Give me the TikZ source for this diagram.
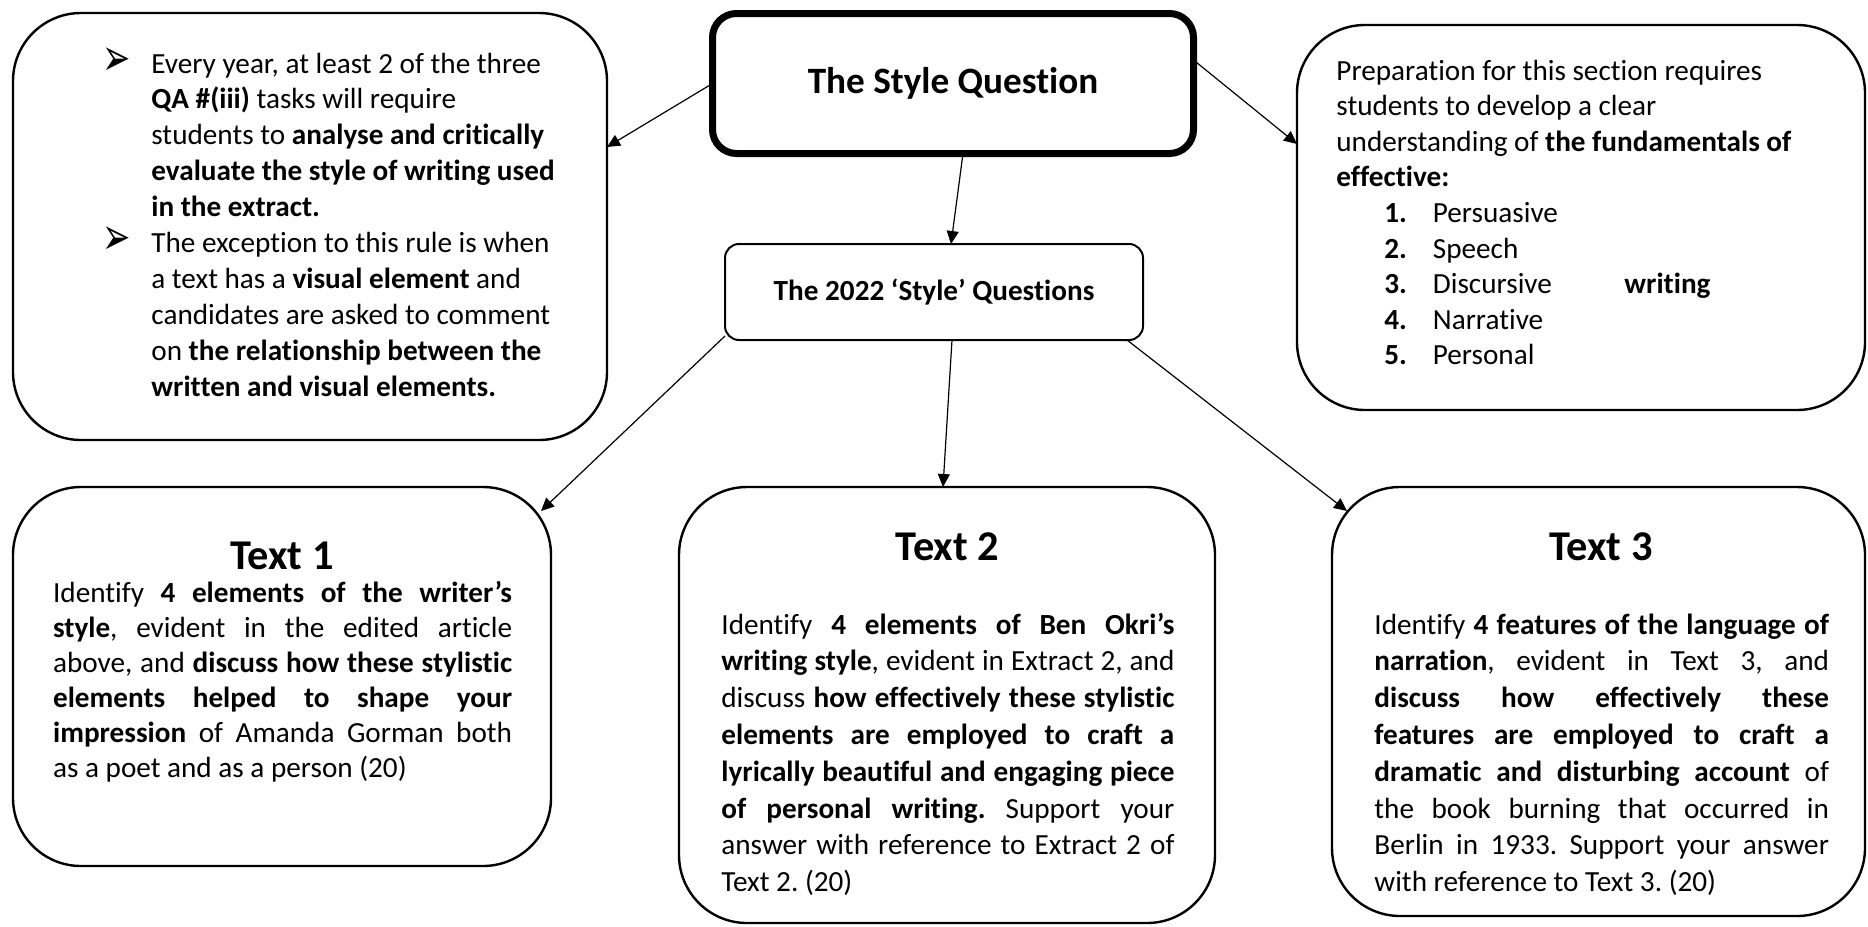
\documentclass[tikz,border=0pt]{standalone}
\usepackage{fontspec}
\setmainfont{Carlito}[Ligatures={TeX,NoCommon}]
\newfontfamily\dejavu{DejaVu Sans}
\usetikzlibrary{arrows.meta}
\frenchspacing

\newcommand{\bul}{\leavevmode\llap{\raisebox{-1.2pt}{\scalebox{1.3}[2.0]{\dejavu\fontsize{13pt}{13pt}\selectfont ➢}}\hspace{10.5pt}}}
\newcommand{\jpar}[3]{\vtop{\hsize=#1\relax\fontsize{14.6pt}{#2}\selectfont\frenchspacing\parindent=0pt\tolerance=10000\hyphenpenalty=10000\hbadness=10000\noindent #3\par}}
\newcommand{\rpar}[3]{\vtop{\hsize=#1\relax\fontsize{14.6pt}{#2}\selectfont\frenchspacing\parindent=0pt\raggedright\noindent #3\par}}

\begin{document}
\begin{tikzpicture}[x=0.5pt,y=-0.5pt,
  bigbox/.style={draw, line width=1.2pt, rounded corners=34pt, inner sep=0pt, outer sep=0pt},
  conn/.style={-{Triangle[length=6.5pt,width=6pt]}, line width=0.6pt},
  txt/.style={anchor=base west, inner sep=0pt},
  title/.style={anchor=base, inner sep=0pt, font=\fontsize{21.2pt}{25pt}\selectfont\bfseries}]
\useasboundingbox (0,0) rectangle (1868,926);

% boxes
\node[bigbox, minimum width=297pt, minimum height=213.5pt] (tl) at (310,226.5) {};
\node[draw, line width=3.5pt, rounded corners=12pt, minimum width=240.5pt, minimum height=70pt,
      inner sep=0pt, outer sep=0pt, font=\fontsize{18.6pt}{22pt}\selectfont\bfseries] (sq) at (953,83.5) {The Style Question};
\node[bigbox, minimum width=284pt, minimum height=192.5pt] (tr) at (1581,217.5) {};
\node[draw, line width=1pt, rounded corners=7pt, minimum width=209pt, minimum height=48pt,
      inner sep=0pt, outer sep=0pt, font=\fontsize{14.6pt}{17.8pt}\selectfont\bfseries] (q22) at (934,292) {The 2022 ‘Style’ Questions};
\node[bigbox, minimum width=269pt, minimum height=189.5pt] (t1) at (282,676.5) {};
\node[bigbox, minimum width=268pt, minimum height=218pt] (t2) at (947,705) {};
\node[bigbox, minimum width=266.5pt, minimum height=214.5pt] (t3) at (1598.5,701.5) {};

% connectors
\draw[conn] (sq.west) -- ([yshift=39.75pt]tl.east);
\draw[conn] ([yshift=11.75pt]sq.east) -- ([yshift=36.75pt]tr.west);
\draw[conn] ([xshift=5pt]sq.south) -- ([xshift=8.5pt]q22.north);
\draw[conn] ([yshift=2pt]q22.south west) -- ([xshift=-5pt,yshift=-12pt]t1.north east);
\draw[conn] ([xshift=9pt]q22.south) -- ([xshift=-2pt]t2.north);
\draw[conn] ([xshift=-8pt]q22.south east) -- ([xshift=7.5pt,yshift=-12pt]t3.north west);

% top-left text
\node[txt] (tltext) at (151,73) {\rpar{225pt}{17.95pt}{%
\bul Every year, at least 2 of the three\\
\textbf{QA \#(iii)} tasks will require\\
students to \textbf{analyse and critically}\\
\textbf{evaluate the style of writing used}\\
\textbf{in the extract.}\\
\bul The exception to this rule is when\\
a text has a \textbf{visual element} and\\
candidates are asked to comment\\
on \textbf{the relationship between the}\\
\textbf{written and visual elements.}}};

% top-right text
\node[txt] (trtext) at (1336,80) {\rpar{260pt}{17.8pt}{%
Preparation for this section requires\\
students to develop a clear\\
understanding of \textbf{the fundamentals of}\\
\textbf{effective:}\\
\hspace*{24pt}\makebox[24.25pt][l]{\textbf{1.}}Persuasive\\
\hspace*{24pt}\makebox[24.25pt][l]{\textbf{2.}}Speech\\
\hspace*{24pt}\makebox[24.25pt][l]{\textbf{3.}}\makebox[95.75pt][l]{Discursive}\textbf{writing}\\
\hspace*{24pt}\makebox[24.25pt][l]{\textbf{4.}}Narrative\\
\hspace*{24pt}\makebox[24.25pt][l]{\textbf{5.}}Personal}};

% Text 1
\node[title] (t1title) at (282,569) {Text 1};
\node[txt] (t1text) at (52.7,602) {\jpar{229.5pt}{17.5pt}{%
Identify \textbf{4 elements of the writer’s}\linebreak
\textbf{style}, evident in the edited article\linebreak
above, and \textbf{discuss how these stylistic}\linebreak
\textbf{elements helped to shape your}\linebreak
\textbf{impression} of Amanda Gorman both\linebreak
as a poet and as a person (20)}};

% Text 2
\node[title] (t2title) at (947.5,560) {Text 2};
\node[txt] (t2text) at (721,634) {\jpar{226.5pt}{18.4pt}{%
Identify \textbf{4 elements of Ben Okri’s}\linebreak
\textbf{writing style}, evident in Extract 2, and\linebreak
discuss \textbf{how effectively these stylistic}\linebreak
\textbf{elements are employed to craft a}\linebreak
\textbf{lyrically beautiful and engaging piece}\linebreak
\textbf{of personal writing.} Support your\linebreak
answer with reference to Extract 2 of\linebreak
Text 2. (20)}};

% Text 3
\node[title] (t3title) at (1601,560) {Text 3};
\node[txt] (t3text) at (1374,634) {\jpar{227.3pt}{18.4pt}{%
Identify \textbf{4 features of the language of}\linebreak
\textbf{narration}, evident in Text 3, and\linebreak
\textbf{discuss how effectively these}\linebreak
\textbf{features are employed to craft a}\linebreak
\textbf{dramatic and disturbing account} of\linebreak
the book burning that occurred in\linebreak
Berlin in 1933. Support your answer\linebreak
with reference to Text 3. (20)}};
\end{tikzpicture}
\end{document}
